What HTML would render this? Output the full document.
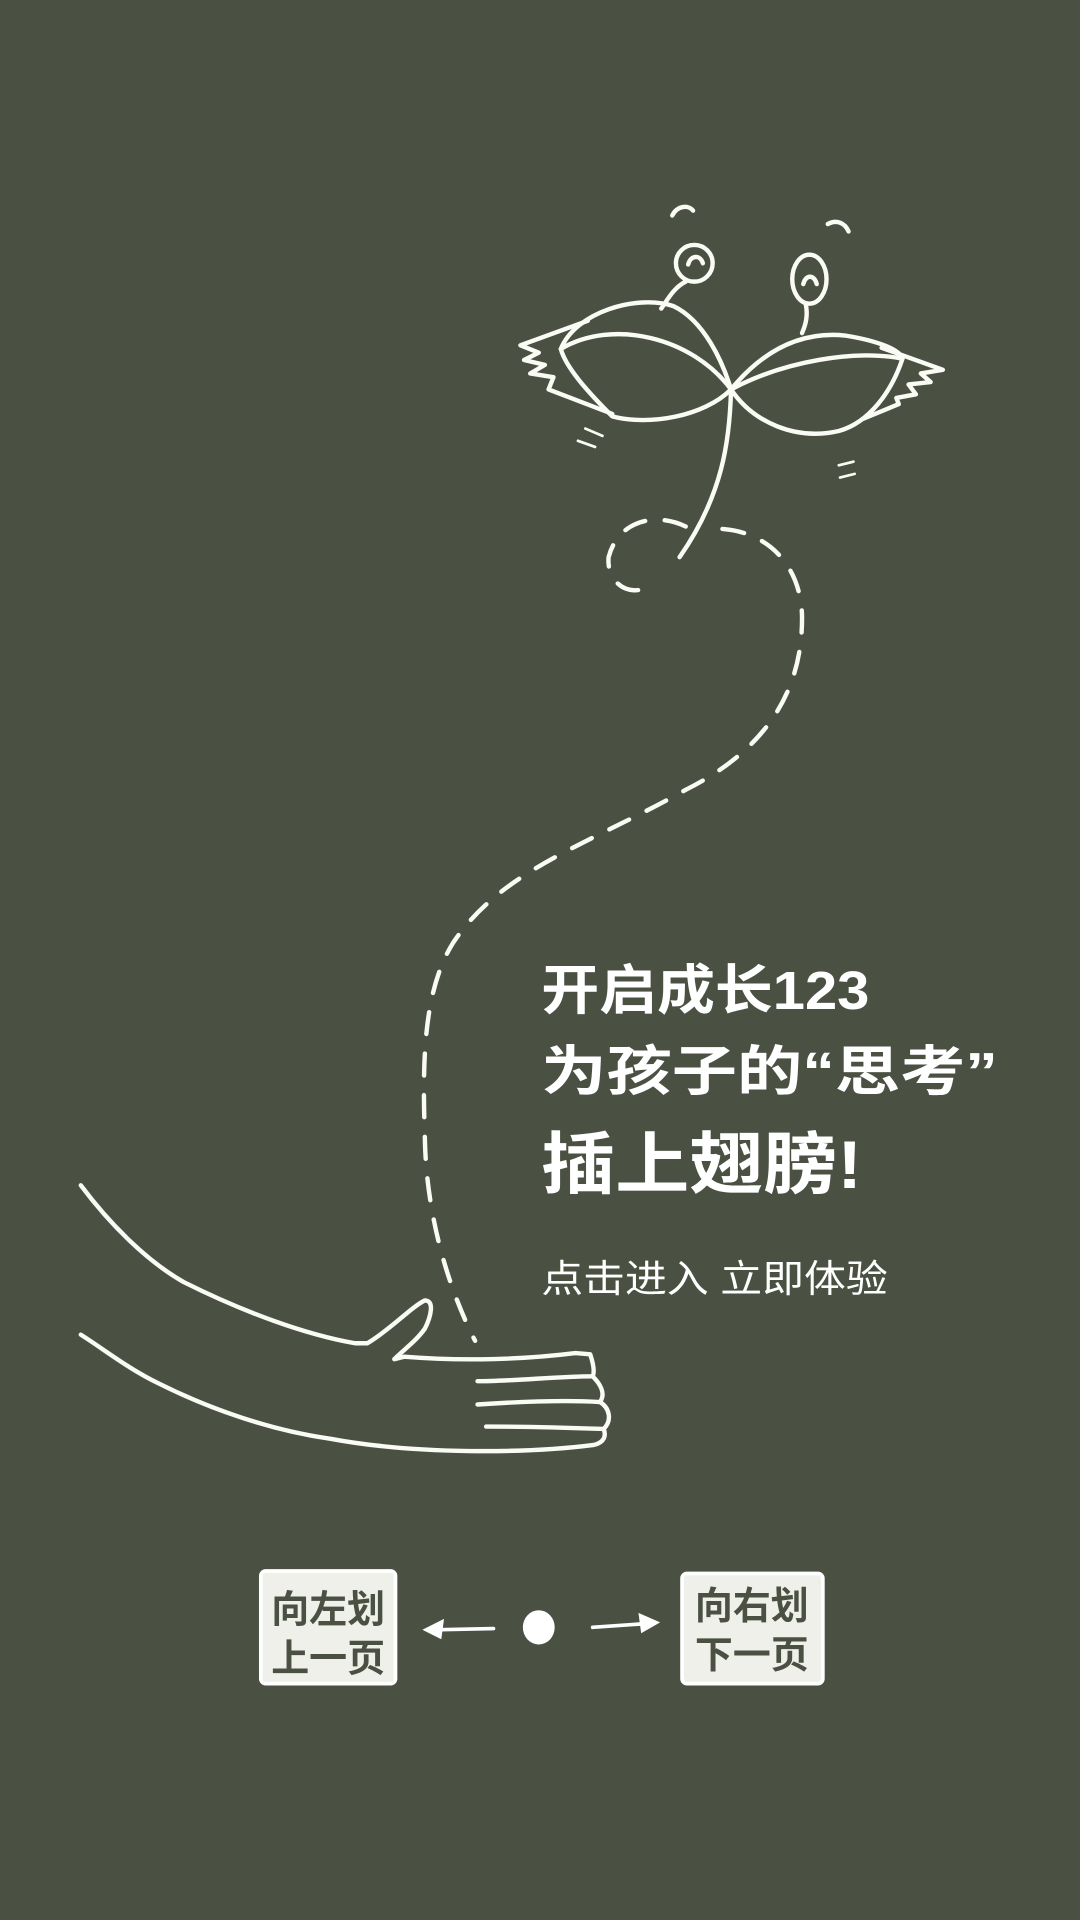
<!DOCTYPE html>
<html><head><meta charset="utf-8">
<style>
html,body{margin:0;padding:0;background:#4a5143;}
svg{display:block;}
text{font-family:"Liberation Sans","Noto Sans CJK SC",sans-serif;}
</style></head>
<body>
<svg width="1080" height="1920" viewBox="0 0 882 1568" xmlns="http://www.w3.org/2000/svg">
<rect x="0" y="0" width="882" height="1568" fill="#4a5143"/>
<g fill="none" stroke="#fbfbf5" stroke-width="3.6" stroke-linecap="round" stroke-linejoin="round">
  <path d="M458,285 C470,255 520,240 550,250 C575,262 590,295 597,318 C575,340 530,348 500,340 C480,320 462,300 458,285 Z"/>
  <path d="M458,285 C500,260 565,275 597,318"/>
  <path d="M480,262 L425,282 L440,288 L428,294 L445,298 L433,305 L452,308 L448,318 L500,338"/>
  <path d="M597,318 C620,290 650,270 690,274 C715,278 735,285 737,293 C728,320 710,345 685,352 C650,360 615,345 597,318 Z"/>
  <path d="M597,318 C640,295 700,285 737,293"/>
  <path d="M720,284 L770,302 L752,305 L760,312 L742,314 L748,322 L732,325 L734,330 L705,342"/>
  <circle cx="567" cy="215" r="15"/>
  <path d="M562,216 C564,208 572,208 574,215"/>
  <ellipse cx="661" cy="228" rx="14" ry="20"/>
  <path d="M656,232 C658,224 665,224 667,232"/>
  <path d="M560,230 C550,235 545,245 540,252"/>
  <path d="M658,248 C660,258 658,265 655,272"/>
  <path d="M549,176 C553,168 562,167 566,172"/>
  <path d="M676,183 C683,179 690,182 693,189"/>
  <path d="M478,350 L492,356 M472,360 L486,365" stroke-width="2.2"/>
  <path d="M685,380 L697,377 M686,390 L698,387" stroke-width="2.2"/>
  <path d="M597,318 C596,360 590,405 555,455"/>
  <path stroke-dasharray="18,16" d="M560,430 C535,418 505,425 497,455 C495,480 520,490 535,475 M590,432 C630,435 655,465 655,505 C655,560 630,610 560,645 C480,690 410,710 370,770 C345,810 345,870 347,930 C348,990 365,1050 388,1095"/>
  <path d="M66,968 C90,1000 120,1030 150,1047 C200,1072 250,1090 290,1097 L300,1097 C320,1085 335,1068 347,1062 C355,1062 352,1075 347,1085 C340,1095 330,1102 322,1110 L330,1108 C380,1112 430,1110 470,1105 L482,1106 C484,1112 486,1120 484,1124 C490,1130 495,1138 490,1145 C498,1150 500,1160 493,1167 C495,1172 494,1178 485,1180 C430,1187 340,1188 270,1175 C220,1168 170,1150 130,1130 C105,1118 85,1102 66,1090"/>
  <path d="M390,1128 C420,1128 455,1124 484,1124 M390,1147 C420,1145 460,1143 490,1145 M397,1165 C430,1165 465,1166 493,1167"/>
</g>
<g fill="#ffffff" font-weight="bold">
  <text x="442" y="824" font-size="44" textLength="268" lengthAdjust="spacingAndGlyphs">开启成长123</text>
  <text x="442" y="890" font-size="44" textLength="373" lengthAdjust="spacingAndGlyphs">为孩子的“思考”</text>
  <text x="442" y="970" font-size="55" textLength="262" lengthAdjust="spacingAndGlyphs">插上翅膀!</text>
</g>
<text x="442" y="1055" font-size="31" fill="#ffffff" textLength="283" lengthAdjust="spacingAndGlyphs">点击进入  立即体验</text>
<g>
  <rect x="213" y="1283" width="110" height="92" rx="4" fill="#f0f0ea" stroke="#ffffff" stroke-width="3"/>
  <text x="268" y="1325" font-size="31" font-weight="bold" fill="#4a5143" text-anchor="middle">向左划</text>
  <text x="268" y="1365" font-size="31" font-weight="bold" fill="#4a5143" text-anchor="middle">上一页</text>
</g>
<g>
  <rect x="557" y="1285" width="115" height="90" rx="4" fill="#f0f0ea" stroke="#ffffff" stroke-width="3"/>
  <text x="614" y="1322" font-size="31" font-weight="bold" fill="#4a5143" text-anchor="middle">向右划</text>
  <text x="614" y="1362" font-size="31" font-weight="bold" fill="#4a5143" text-anchor="middle">下一页</text>
</g>
<g fill="#ffffff" stroke="#ffffff" stroke-width="3" stroke-linecap="round">
  <ellipse cx="440" cy="1329" rx="13" ry="14" stroke="none"/>
  <line x1="403" y1="1330" x2="355" y2="1331"/>
  <path d="M346,1331 L362,1323 L360,1338 Z" stroke-width="1"/>
  <line x1="484" y1="1329" x2="527" y2="1326"/>
  <path d="M538,1325 L522,1318 L524,1333 Z" stroke-width="1"/>
</g>
</svg>
</body></html>
